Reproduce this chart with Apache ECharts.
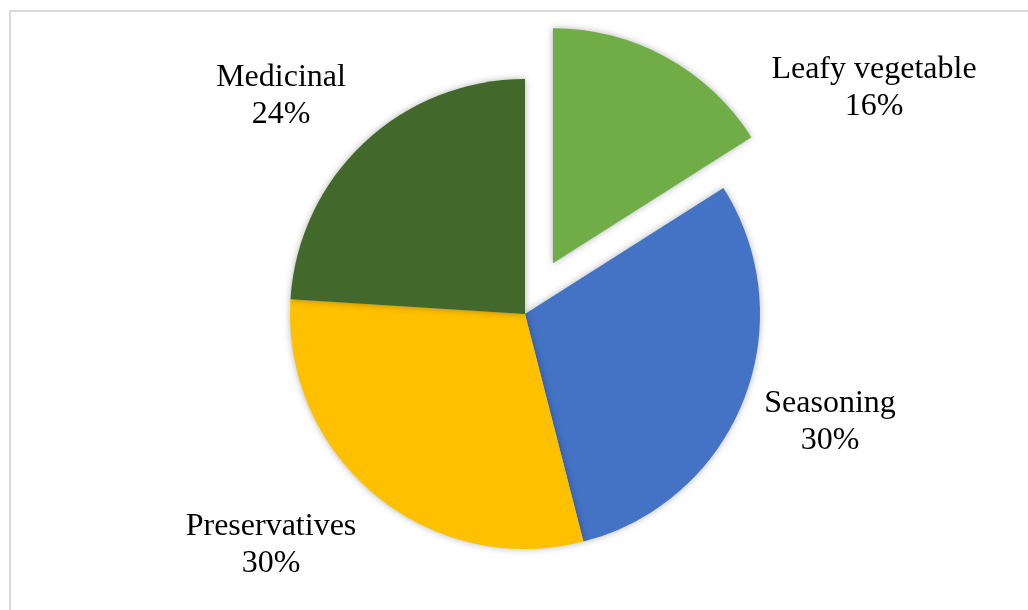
<!DOCTYPE html>
<html>
<head>
<meta charset="utf-8">
<script src="https://cdn.jsdelivr.net/npm/echarts@6/dist/echarts.min.js"></script>
<style>
  html, body { margin: 0; padding: 0; background: #ffffff; }
  #chart { width: 1028px; height: 610px; }
</style>
</head>
<body>
<div id="chart"></div>
<script>
// Uses of the plant, share of each category (%)
const categories = ['Leafy vegetable', 'Seasoning', 'Preservatives', 'Medicinal'];
const shares = [16, 30, 30, 24];
const sliceColors = ['#70AD47', '#4472C4', '#FFC000', '#43682B'];
// The leafy vegetable slice is pulled out of the pie
const explodedSlices = [true, false, false, false];

// Label placement relative to the pie centre (px)
const labelOffsets = [[349, -226], [305, 108], [-254, 231], [-244, -218]];

const pieCenter = [525, 314];
const pieRadius = 235;

const chart = echarts.init(document.getElementById('chart'), null, { renderer: 'canvas' });

const labelFont = {
  fontFamily: '"Liberation Serif", "Times New Roman", serif',
  fontSize: 32,
  lineHeight: 37,
  color: '#000000'
};

chart.setOption({
  backgroundColor: '#ffffff',
  animation: false,
  graphic: [{
    type: 'rect',
    silent: true,
    shape: { x: 10, y: 11, width: 1040, height: 640 },
    style: { fill: 'none', stroke: '#d9d9d9', lineWidth: 2 }
  }],
  series: [
    // slices
    {
      type: 'pie',
      center: pieCenter,
      radius: pieRadius,
      startAngle: 90,
      clockwise: true,
      selectedMode: 'multiple',
      selectedOffset: 58,
      itemStyle: {
        shadowBlur: 7,
        shadowColor: 'rgba(0,0,0,0.3)'
      },
      label: { show: false },
      labelLine: { show: false },
      emphasis: { disabled: true },
      data: categories.map((name, i) => ({
        name: name,
        value: shares[i],
        selected: explodedSlices[i],
        itemStyle: { color: sliceColors[i] }
      }))
    },
    // category labels with percentages
    {
      type: 'pie',
      center: pieCenter,
      radius: pieRadius,
      startAngle: 90,
      clockwise: true,
      silent: true,
      percentPrecision: 0,
      avoidLabelOverlap: false,
      itemStyle: { color: 'rgba(0,0,0,0)' },
      label: Object.assign({
        show: true,
        position: 'outside',
        formatter: '{b}\n{d}%',
        align: 'center'
      }, labelFont),
      labelLine: { show: false },
      labelLayout: function (p) {
        const off = labelOffsets[p.dataIndex];
        return {
          x: pieCenter[0] + off[0],
          y: pieCenter[1] + off[1],
          align: 'center',
          verticalAlign: 'middle'
        };
      },
      emphasis: { disabled: true },
      data: categories.map((name, i) => ({ name: name, value: shares[i] }))
    }
  ]
});
</script>
</body>
</html>
